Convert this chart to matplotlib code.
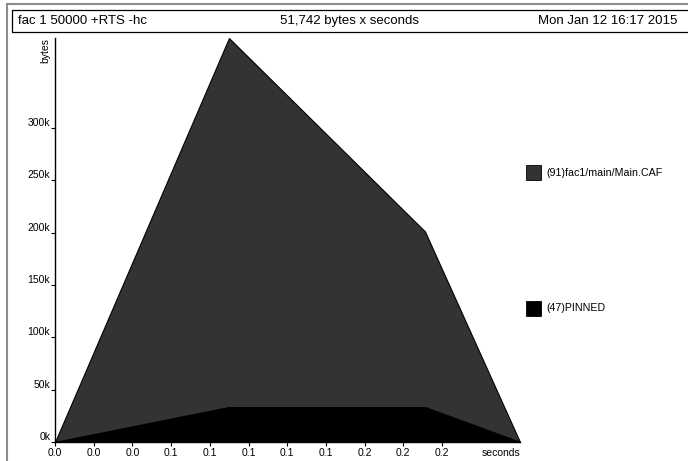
import matplotlib.pyplot as plt
from matplotlib.patches import Rectangle
from matplotlib.lines import Line2D
from matplotlib.transforms import offset_copy

plt.rcParams['font.family'] = ['Liberation Sans', 'DejaVu Sans']

# heap profile samples (seconds, bytes)
times = [0.0, 0.0899, 0.1912, 0.2403]
pinned = [0, 33300, 33300, 0]
caf = [0, 352400, 167700, 0]

bands = ['(91)fac1/main/Main.CAF', '(47)PINNED']
band_colors = ['#333333', '#000000']

xticks = [0.0, 0.02, 0.04, 0.06, 0.08, 0.10, 0.12, 0.14, 0.16, 0.18, 0.20]
yticks = [0, 50000, 100000, 150000, 200000, 250000, 300000]

title_left = 'fac 1 50000 +RTS -hc'
title_mid = '51,742 bytes x seconds'
title_right = 'Mon Jan 12 16:17 2015'

W, H = 688, 461
fig = plt.figure(figsize=(W / 100, H / 100), dpi=100)

def fx(px):
    return px / W

def fy(py):
    return 1 - py / H

# outer page border (gray, only top/left visible)
fig.add_artist(Line2D([fx(7), fx(7)], [fy(4), fy(461)], color='#8c8c8c', lw=1.5))
fig.add_artist(Line2D([fx(7), fx(688)], [fy(4), fy(4)], color='#8c8c8c', lw=1.5))

# title box
fig.add_artist(Rectangle((fx(12), fy(32)), fx(690) - fx(12), fy(10) - fy(32),
                         fill=False, edgecolor='black', lw=0.9))
fig.text(fx(18), fy(21), title_left, ha='left', va='center', fontsize=9.5)
fig.text(fx(350), fy(21), title_mid, ha='center', va='center', fontsize=9.5)
fig.text(fx(677), fy(21), title_right, ha='right', va='center', fontsize=9.5)

# plot area
ax = fig.add_axes([fx(55), fy(442), fx(520) - fx(55), fy(38) - fy(442)])
total = [p + c for p, c in zip(pinned, caf)]
ax.fill_between(times, pinned, total, facecolor=band_colors[0], edgecolor='black', lw=0.8)
ax.fill_between(times, 0, pinned, facecolor=band_colors[1], edgecolor='black', lw=0.8)
ax.set_xlim(0, times[-1])
ax.set_ylim(0, max(total))

for s in ['top', 'right']:
    ax.spines[s].set_visible(False)
for s in ['left', 'bottom']:
    ax.spines[s].set_linewidth(1.0)
    ax.spines[s].set_zorder(5)

ax.set_xticks(xticks)
ax.set_xticklabels([f'{t:.1f}' for t in xticks], fontsize=7.5)
ax.set_yticks(yticks)
ax.set_yticklabels([f'{int(v / 1000)}k' for v in yticks], fontsize=7.5)
for lab in ax.get_yticklabels():
    lab.set_va('bottom')
ax.tick_params(axis='x', length=3, width=0.8, pad=1.5)
ax.tick_params(axis='y', length=3, width=0.8, pad=0.5)

sec_tr = offset_copy(ax.get_xaxis_transform(), fig=fig, x=0, y=-4.5, units='points')
ax.text(times[-1], 0, 'seconds', transform=sec_tr, ha='right', va='top', fontsize=7.5)
ax.text(-0.02, 1.0, 'bytes', transform=ax.transAxes, rotation=90,
        ha='center', va='top', fontsize=7.5)

# legend
leg_y = [173, 308]
for name, col, yc in zip(bands, band_colors, leg_y):
    fig.add_artist(Rectangle((fx(526), fy(yc + 7.5)), fx(15), fy(0) - fy(15),
                             facecolor=col, edgecolor='black', lw=0.6))
    fig.text(fx(546), fy(yc), name, ha='left', va='center', fontsize=7.7)

fig.savefig('out.png', dpi=100)
